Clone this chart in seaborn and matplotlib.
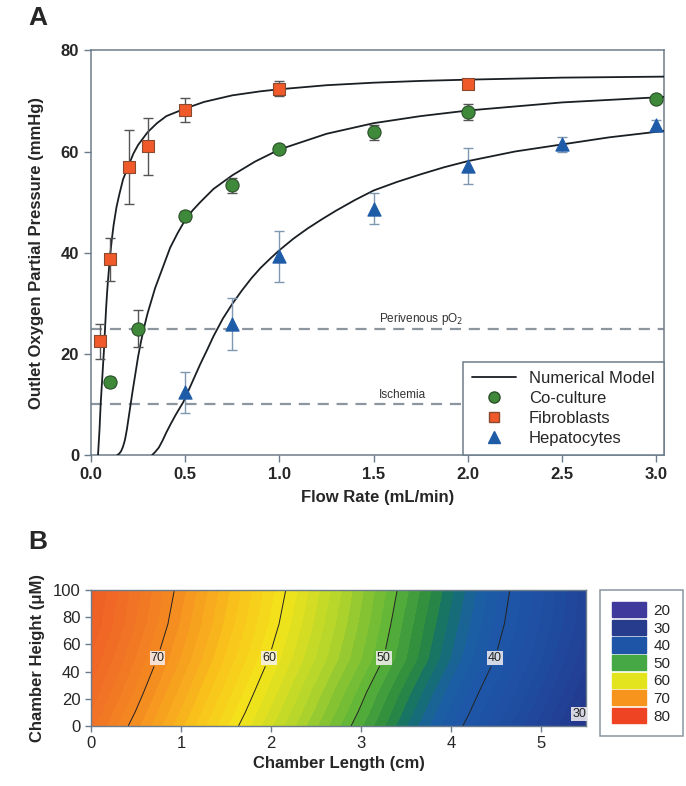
import numpy as np
import pandas as pd
import matplotlib
matplotlib.use("Agg")
import matplotlib.pyplot as plt
import seaborn as sns
from matplotlib.colors import LinearSegmentedColormap
from matplotlib.patches import Patch
from matplotlib.lines import Line2D

# ---------------- Panel A data ----------------
cocult_q = [0.1, 0.25, 0.5, 0.75, 1.0, 1.5, 2.0, 3.0]
cocult_p = [14.5, 25.0, 47.2, 53.3, 60.5, 63.8, 67.8, 70.3]
cocult_err = [1.0, 3.6, 1.0, 1.5, 0.8, 1.5, 1.5, 0.4]

fibro_q = [0.05, 0.1, 0.2, 0.3, 0.5, 1.0, 2.0]
fibro_p = [22.5, 38.7, 57.0, 61.0, 68.2, 72.4, 73.3]
fibro_err = [3.5, 4.3, 7.3, 5.6, 2.3, 1.5, 0.0]

hepa_q = [0.5, 0.75, 1.0, 1.5, 2.0, 2.5, 3.0]
hepa_p = [12.4, 25.9, 39.3, 48.7, 57.1, 61.4, 65.3]
hepa_err = [4.0, 5.2, 5.0, 3.0, 3.6, 1.5, 1.0]

# numerical model curves
model_fibro_q = [0.037, 0.041, 0.045, 0.051, 0.06, 0.069, 0.075, 0.08, 0.085, 0.09,
                 0.1, 0.11, 0.12, 0.135, 0.15, 0.17, 0.2, 0.225, 0.25, 0.3, 0.35,
                 0.4, 0.5, 0.6, 0.75, 0.9, 1.0, 1.25, 1.5, 1.75, 2.0, 2.5, 3.05]
model_fibro_p = [0.0, 2.5, 5.0, 10.0, 15.5, 21.0, 25.5, 29.0, 32.0, 34.5,
                 39.0, 42.5, 45.5, 49.0, 51.5, 54.5, 57.3, 59.6, 61.3, 63.8, 65.6,
                 67.0, 68.5, 69.8, 71.1, 71.9, 72.3, 73.1, 73.6, 73.95, 74.2, 74.6, 74.8]
model_cocult_q = [0.139, 0.15, 0.16, 0.17, 0.18, 0.19, 0.2, 0.21, 0.22, 0.235, 0.25,
                  0.265, 0.28, 0.3, 0.32, 0.34, 0.36, 0.39, 0.42, 0.46,
                  0.5, 0.54, 0.58, 0.65, 0.75, 0.87, 1.0, 1.25, 1.5, 1.75, 2.0, 2.5, 3.05]
model_cocult_p = [0.0, 0.3, 0.8, 1.7, 3.0, 5.0, 7.5, 10.0, 12.5, 16.0, 19.5,
                  22.4, 25.0, 28.0, 30.5, 33.0, 35.0, 38.0, 41.0, 43.9,
                  46.5, 48.4, 50.0, 52.6, 55.3, 58.0, 60.4, 63.5, 65.6, 67.0, 68.1, 69.7, 70.8]
model_hepa_q = [0.324, 0.34, 0.36, 0.38, 0.4, 0.425, 0.45, 0.49, 0.52, 0.55, 0.58,
                0.615, 0.65, 0.7, 0.75, 0.8, 0.85, 0.9, 0.95,
                1.0, 1.075, 1.15, 1.225, 1.3, 1.4, 1.5, 1.625, 1.75, 1.875, 2.0,
                2.25, 2.5, 2.75, 3.05]
model_hepa_p = [0.0, 0.6, 1.5, 2.9, 4.5, 6.3, 8.0, 10.5, 13.0, 15.5, 18.0,
                20.7, 23.5, 27.0, 29.9, 32.5, 34.9, 37.0, 38.8,
                40.5, 42.8, 44.8, 46.6, 48.3, 50.4, 52.3, 54.0, 55.5, 56.9, 58.1,
                60.0, 61.4, 62.8, 64.1]

perivenous_po2 = 25
ischemia_po2 = 10

# ---------------- Panel B data ----------------
chamber_length = [0.0, 0.5, 1.0, 1.5, 2.0, 2.5, 3.0, 3.5, 4.0, 4.5, 5.0, 5.5]
chamber_height = [0, 10, 25, 50, 75, 100]
po2_field = [
    [73.3, 69.3, 65.2, 61.1, 57.1, 53.1, 49.1, 45.0, 41.0, 37.1, 33.4, 29.6],
    [73.9, 69.9, 65.8, 61.7, 57.7, 53.7, 49.7, 45.6, 41.6, 37.7, 34.0, 30.2],
    [74.7, 70.7, 66.6, 62.5, 58.5, 54.5, 50.5, 46.4, 42.4, 38.5, 34.8, 31.0],
    [75.9, 71.9, 67.9, 63.8, 59.8, 55.9, 52.0, 48.0, 43.9, 39.9, 36.0, 32.2],
    [76.9, 72.9, 68.8, 64.7, 60.7, 56.7, 52.7, 48.6, 44.6, 40.7, 36.8, 33.0],
    [77.4, 73.4, 69.4, 65.3, 61.3, 57.3, 53.2, 49.2, 45.2, 41.2, 37.2, 33.3],
]
contour_levels = [30, 40, 50, 60, 70]
legend_levels = [20, 30, 40, 50, 60, 70, 80]

# ---------------- style ----------------
sns.set_style("ticks")
plt.rcParams["font.family"] = ["Liberation Sans", "DejaVu Sans"]
spine_c = "#6d7c8a"

fig = plt.figure(figsize=(6.86, 7.86), dpi=100)
axA = fig.add_axes([0.1327, 0.421, 0.835, 0.515])
axB = fig.add_axes([0.1327, 0.0763, 0.722, 0.173])

# ---------------- Panel A ----------------
models = pd.concat([
    pd.DataFrame({"q": model_fibro_q, "p": model_fibro_p, "s": "fibro"}),
    pd.DataFrame({"q": model_cocult_q, "p": model_cocult_p, "s": "cocult"}),
    pd.DataFrame({"q": model_hepa_q, "p": model_hepa_p, "s": "hepa"}),
])
sns.lineplot(data=models, x="q", y="p", units="s", estimator=None, sort=False,
             color="#1a1f24", lw=1.3, ax=axA, zorder=3)

for yv in (perivenous_po2, ischemia_po2):
    axA.axhline(yv, color="#8d969f", lw=1.6, ls=(0, (5, 3.5)), zorder=1)
axA.text(1.53, perivenous_po2 + 1.3, "Perivenous pO$_2$", fontsize=8.5, color="#333333")
axA.text(1.53, ischemia_po2 + 1.3, "Ischemia", fontsize=8.5, color="#333333")

series = [
    (cocult_q, cocult_p, cocult_err, "o", "#3f8a3a", "#2b4f2a", "#555555", "Co-culture", 9.5),
    (fibro_q, fibro_p, fibro_err, "s", "#f0592a", "#8a4a30", "#555555", "Fibroblasts", 8.5),
    (hepa_q, hepa_p, hepa_err, "^", "#1f5ca8", "#1f5ca8", "#7f98b2", "Hepatocytes", 9.5),
]
for q, p, e, m, fc, ec, errc, lab, ms in series:
    axA.errorbar(q, p, yerr=e, fmt="none", ecolor=errc, elinewidth=1.0,
                 capsize=3.5, capthick=1.0, zorder=4)
    df = pd.DataFrame({"q": q, "p": p})
    sns.scatterplot(data=df, x="q", y="p", marker=m, s=ms ** 2, color=fc,
                    edgecolor=ec, linewidth=0.8, ax=axA, zorder=5)

axA.set_xlim(0, 3.04)
axA.set_ylim(0, 80)
axA.set_xticks([0, 0.5, 1.0, 1.5, 2.0, 2.5, 3.0])
axA.set_xticklabels(["0.0", "0.5", "1.0", "1.5", "2.0", "2.5", "3.0"])
axA.set_yticks([0, 20, 40, 60, 80])
axA.set_xlabel("Flow Rate (mL/min)", fontsize=12, fontweight="bold", labelpad=6)
axA.set_ylabel("Outlet Oxygen Partial Pressure (mmHg)", fontsize=12,
               fontweight="bold", labelpad=12)
for lab in axA.get_xticklabels() + axA.get_yticklabels():
    lab.set_fontweight("bold")
axA.tick_params(labelsize=12, color=spine_c, length=5, width=1, direction="out")
for sp in axA.spines.values():
    sp.set_visible(True)
    sp.set_color(spine_c)
    sp.set_linewidth(1.1)

handles = [
    Line2D([], [], color="#1a1f24", lw=1.3),
    Line2D([], [], marker="o", ls="none", color="#3f8a3a", mec="#2b4f2a", ms=8),
    Line2D([], [], marker="s", ls="none", color="#f0592a", mec="#8a4a30", ms=7),
    Line2D([], [], marker="^", ls="none", color="#1f5ca8", mec="#1f5ca8", ms=8),
]
legA = axA.legend(handles, ["Numerical Model", "Co-culture", "Fibroblasts", "Hepatocytes"],
                  loc="lower right", borderaxespad=0, fontsize=12, frameon=True,
                  fancybox=False, handlelength=2.6, labelspacing=0.3,
                  borderpad=0.55, handletextpad=0.8)
legA.get_frame().set_edgecolor(spine_c)
legA.get_frame().set_linewidth(1.1)
legA.get_frame().set_alpha(1)

# ---------------- Panel B ----------------
cmap = LinearSegmentedColormap.from_list("o2", [
    (0.0, "#3d3596"),
    (10 / 60, "#24368c"),
    (15 / 60, "#1f4a9e"),
    (20 / 60, "#1e56a8"),
    (23 / 60, "#1b5fa2"),
    (25 / 60, "#15706c"),
    (27 / 60, "#2a8a3e"),
    (30 / 60, "#5bb33a"),
    (35 / 60, "#b2d42c"),
    (40 / 60, "#f3e51b"),
    (44 / 60, "#f9c41c"),
    (48 / 60, "#f79e1f"),
    (50 / 60, "#f58a22"),
    (55 / 60, "#f06a26"),
    (1.0, "#ec5226"),
])
X, Y = np.meshgrid(chamber_length, chamber_height)
Z = np.array(po2_field)
axB.contourf(X, Y, Z, levels=np.arange(20, 80.5, 1.0), cmap=cmap, vmin=20, vmax=80)
cs = axB.contour(X, Y, Z, levels=contour_levels, colors="#222222", linewidths=0.7)
axB.clabel(cs, fmt="%d", fontsize=9, inline=True, inline_spacing=2,
           manual=[(0.74, 50), (1.98, 50), (3.26, 50), (4.48, 50), (5.46, 3)])
for t in cs.labelTexts:
    t.set_rotation(0)
    t.set_clip_on(False)
    t.set_bbox(dict(facecolor="#f4f0f2", edgecolor="none", pad=0.6, alpha=0.85))
cs.labelTexts[-1].set_position((5.42, 9))

axB.set_xlim(0, 5.5)
axB.set_ylim(0, 100)
axB.set_xticks([0, 1, 2, 3, 4, 5])
axB.set_yticks([0, 20, 40, 60, 80, 100])
axB.tick_params(labelsize=12, color=spine_c, length=4, width=1, direction="out")
axB.set_xlabel("Chamber Length (cm)", fontsize=12, fontweight="bold", labelpad=3)
axB.set_ylabel("Chamber Height (\u03bcM)", fontsize=12, fontweight="bold", labelpad=6)
for sp in axB.spines.values():
    sp.set_visible(True)
    sp.set_color(spine_c)
    sp.set_linewidth(1.0)

leg_colors = ["#3f3a9b", "#283c8e", "#1f55a7", "#45a845", "#e3e31e", "#f7941d", "#ef4423"]
patches = [Patch(facecolor=c, edgecolor=c) for c in leg_colors]
legB = fig.legend(patches, [str(v) for v in legend_levels], loc="upper left",
                  bbox_to_anchor=(600 / 686, 1 - 590 / 786), borderaxespad=0,
                  fontsize=11, frameon=True, fancybox=False, handlelength=2.2,
                  handleheight=1.15, labelspacing=0.12, borderpad=0.8,
                  handletextpad=0.5)
legB.get_frame().set_edgecolor(spine_c)
legB.get_frame().set_linewidth(1.1)

fig.text(28 / 686, 1 - 18 / 786, "A", fontsize=19, fontweight="heavy", va="center")
fig.text(28 / 686, 1 - 542 / 786, "B", fontsize=19, fontweight="heavy", va="center")

fig.savefig("out.png", dpi=100)
